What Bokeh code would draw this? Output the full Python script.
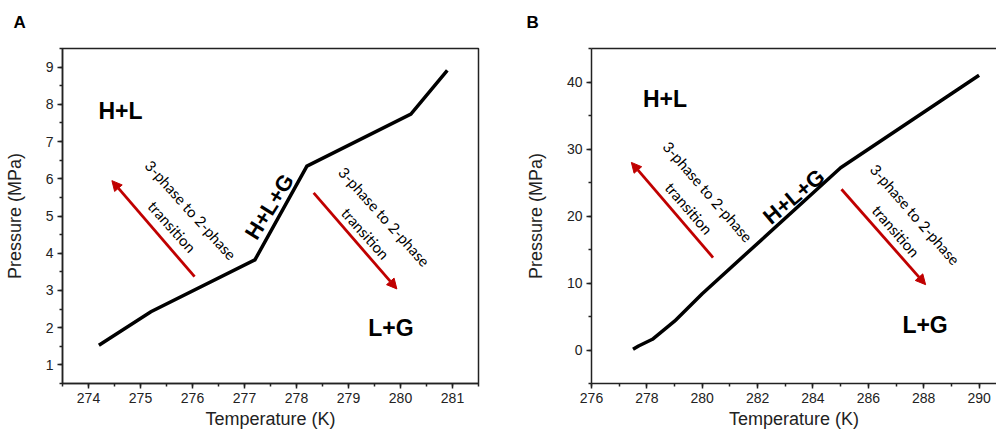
from bokeh.plotting import figure
from bokeh.layouts import row
from bokeh.models import (Arrow, NormalHead, Label, LinearAxis, FixedTicker,
                          SingleIntervalTicker, Range1d, ColumnDataSource)
from bokeh.embed import file_html
from bokeh.resources import INLINE

# ---- data ----
# Panel A: three-phase equilibrium curve
temp_a = [274.2, 275.2, 277.2, 278.2, 280.2, 280.9]
pres_a = [1.53, 2.43, 3.82, 6.34, 7.74, 8.91]
# Panel B: three-phase equilibrium curve
temp_b = [277.5, 277.7, 278.2, 279.0, 280.0, 285.0, 290.0]
pres_b = [0.1, 0.6, 1.6, 4.3, 8.4, 27.2, 41.0]

# transition arrows (start -> end)
arr_a_x0 = [276.04, 278.33]
arr_a_y0 = [3.37, 5.62]
arr_a_x1 = [274.45, 279.93]
arr_a_y1 = [5.95, 3.04]
arr_b_x0 = [280.39, 285.03]
arr_b_y0 = [13.8, 24.0]
arr_b_x1 = [277.44, 288.07]
arr_b_y1 = [28.0, 9.75]

x_label = "Temperature (K)"
y_label = "Pressure (MPa)"
trans_text = "3-phase to 2-phase\ntransition"

RED = "#c00000"
AX = "#222222"
FONT = "Liberation Sans"


def style(p, xint, yint):
    p.xgrid.visible = False
    p.ygrid.visible = False
    p.background_fill_color = "white"
    p.border_fill_color = "white"
    p.xaxis.ticker = SingleIntervalTicker(interval=xint, num_minor_ticks=2)
    p.yaxis.ticker = SingleIntervalTicker(interval=yint, num_minor_ticks=2)
    for ax in (p.xaxis[0], p.yaxis[0]):
        ax.axis_line_color = AX
        ax.axis_line_width = 1.5
        ax.major_tick_line_color = AX
        ax.major_tick_line_width = 1.5
        ax.minor_tick_line_color = AX
        ax.minor_tick_line_width = 1.5
        ax.major_tick_out = 5
        ax.major_tick_in = 0
        ax.minor_tick_out = 3
        ax.minor_tick_in = 0
        ax.major_label_text_font = FONT
        ax.major_label_text_font_size = "14px"
        ax.major_label_text_color = AX
        ax.major_label_standoff = 4
        ax.axis_label_text_font = FONT
        ax.axis_label_text_font_style = "normal"
        ax.axis_label_text_font_size = "18px"
        ax.axis_label_text_color = AX
    p.xaxis.axis_label = x_label
    p.yaxis.axis_label = y_label
    p.xaxis.axis_label_standoff = 3
    p.yaxis.axis_label_standoff = 18


def panel_letter(p, letter, offset):
    # trailing empty line lifts the letter towards the top edge
    p.title.text = letter + "\n"
    p.title.align = "left"
    p.title.offset = offset
    p.title.text_line_height = 0.6
    p.title.text_font = FONT
    p.title.text_font_size = "17px"
    p.title.text_font_style = "bold"
    p.title.text_color = "black"


def add_text(p, x, y, text, size, bold=False, angle=0, align="left",
             baseline="middle", font=FONT, line_height=1.2):
    p.add_layout(Label(x=x, y=y, text=text, text_font=font,
                       text_font_size=size,
                       text_font_style="bold" if bold else "normal",
                       text_color="black", angle=angle, angle_units="deg",
                       text_align=align, text_baseline=baseline,
                       text_line_height=line_height))


def add_arrows(p, x0, y0, x1, y1):
    src = ColumnDataSource(dict(x0=x0, y0=y0, x1=x1, y1=y1))
    p.add_layout(Arrow(x_start="x0", y_start="y0", x_end="x1", y_end="y1",
                       source=src, line_color=RED, line_width=2.8,
                       end=NormalHead(size=10, fill_color=RED,
                                      line_color=RED, line_width=1)))


# ---- Panel A ----
pa = figure(width=500, height=433, x_range=Range1d(273.5, 281.5),
            y_range=Range1d(0.5, 9.5), output_backend="svg",
            toolbar_location=None, min_border_left=62, min_border_right=22,
            min_border_top=48, min_border_bottom=50)
style(pa, 1, 1)
panel_letter(pa, "A", -49)
pa.outline_line_color = AX
pa.outline_line_width = 1.5
pa.line(temp_a, pres_a, line_color="black", line_width=3.5,
        line_join="miter")
add_arrows(pa, arr_a_x0, arr_a_y0, arr_a_x1, arr_a_y1)
add_text(pa, 274.19, 7.83, "H+L", "23px", bold=True)
add_text(pa, 279.38, 2.0, "L+G", "23px", bold=True)
add_text(pa, 277.48, 5.25, "H+L+G", "22px", bold=True, angle=58,
         align="center")
add_text(pa, 275.79, 4.94, trans_text, "15px", angle=-48, align="center",
         font="Lato", line_height=1.4)
add_text(pa, 279.51, 4.76, trans_text, "15px", angle=-48, align="center",
         font="Lato", line_height=1.4)

# ---- Panel B ----
pb = figure(width=496, height=433, x_range=Range1d(276, 290.63),
            y_range=Range1d(-5, 45), output_backend="svg",
            toolbar_location=None, min_border_left=91, min_border_right=0,
            min_border_top=48, min_border_bottom=50)
style(pb, 2, 10)
panel_letter(pb, "B", -65)
pb.outline_line_color = None
top = LinearAxis(ticker=FixedTicker(ticks=[]), major_tick_out=0,
                 major_tick_in=0, minor_tick_out=0, minor_tick_in=0,
                 major_label_text_font_size="0px", axis_line_color=AX,
                 axis_line_width=1.5)
pb.add_layout(top, "above")
pb.line(temp_b, pres_b, line_color="black", line_width=3.5,
        line_join="round")
add_arrows(pb, arr_b_x0, arr_b_y0, arr_b_x1, arr_b_y1)
add_text(pb, 277.86, 37.4, "H+L", "23px", bold=True)
add_text(pb, 287.23, 3.8, "L+G", "23px", bold=True)
add_text(pb, 283.31, 22.9, "H+L+G", "22px", bold=True, angle=40,
         align="center")
add_text(pb, 279.87, 22.4, trans_text, "15px", angle=-49, align="center",
         font="Lato", line_height=1.4)
add_text(pb, 287.35, 19.0, trans_text, "15px", angle=-49, align="center",
         font="Lato", line_height=1.4)

layout = row(pa, pb)
open("out.html", "w").write(file_html(layout, INLINE))
